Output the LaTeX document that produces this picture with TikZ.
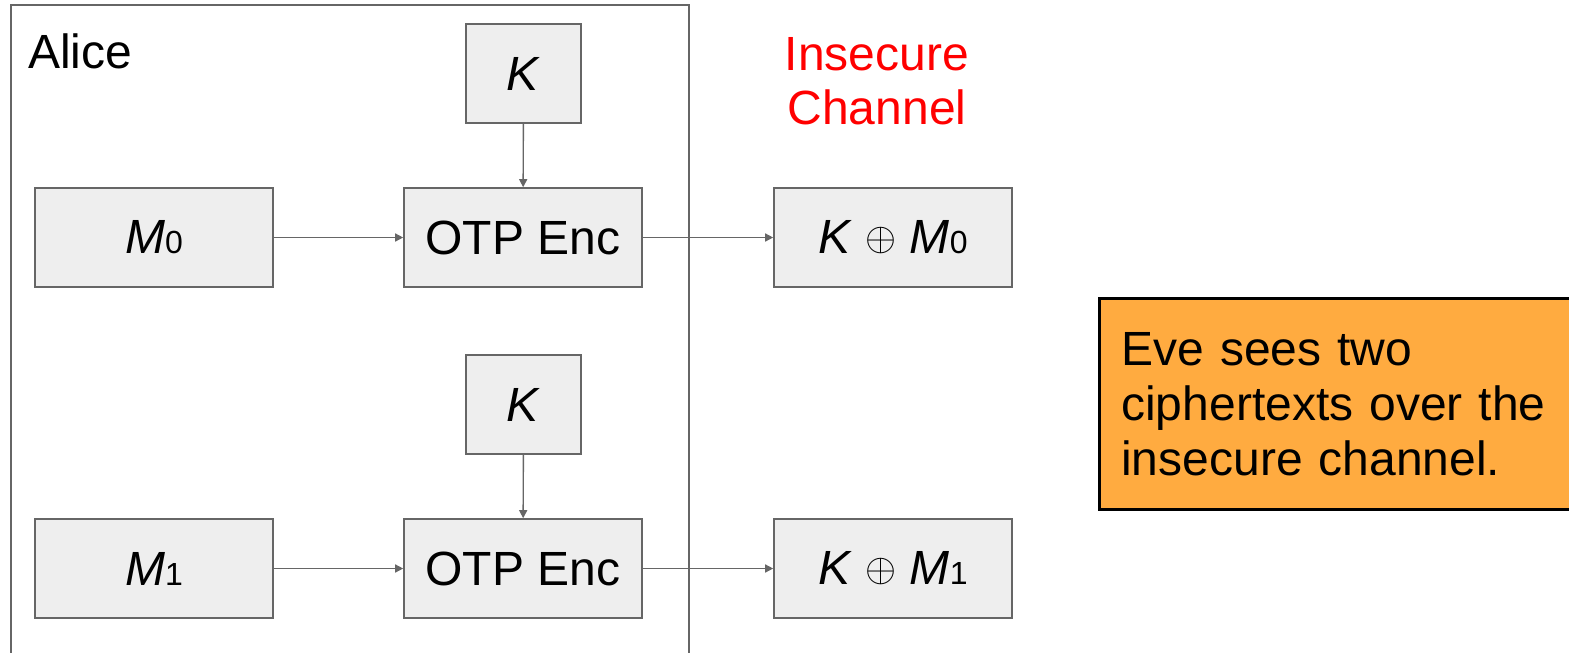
\documentclass[tikz,border=0pt]{standalone}
\usepackage{fontspec}
\setmainfont{Liberation Sans}
\usetikzlibrary{positioning,arrows.meta}
\definecolor{linegray}{HTML}{666666}
\definecolor{boxgray}{HTML}{EEEEEE}
\definecolor{evefill}{HTML}{FFAB40}
\newcommand{\msg}[1]{\textit{M}{\fontsize{32}{32}\selectfont #1}}
\newcommand{\xorsym}{\raisebox{3pt}{\resizebox{31pt}{!}{$\oplus$}}}
\tikzset{
  blk/.style={draw=linegray, fill=boxgray, line width=1.6pt, minimum width=238pt, minimum height=99pt, inner sep=0pt},
  keyblk/.style={blk, minimum width=115pt},
  flow/.style={draw=linegray, line width=1.4pt, -{Triangle[length=8pt,width=8pt]}}
}
\begin{document}
\begin{tikzpicture}[x=1pt, y=-1pt, font=\fontsize{48}{56}\selectfont]
\clip (0,0) rectangle (1569,653);
% Alice frame
\node[draw=linegray, line width=1.6pt, minimum width=678pt, minimum height=700pt, anchor=north west, inner sep=0pt] (alice) at (10,4) {};
\node[anchor=base west, inner sep=0pt] (alicelbl) at (28,68) {Alice};
% first message
\node[keyblk] (k0) at (523.5,73.5) {\textit{K}};
\node[blk] (m0) at (154,237.5) {\msg{0}};
\node[blk] (enc0) at (523,237.5) {OTP Enc};
\node[blk] (c0) at (893,237.5) {\textit{K} \xorsym{} \msg{0}};
% second message
\node[keyblk] (k1) at (523.5,404.5) {\textit{K}};
\node[blk] (m1) at (154,568.5) {\msg{1}};
\node[blk] (enc1) at (523,568.5) {OTP Enc};
\node[blk] (c1) at (893,568.5) {\textit{K} \xorsym{} \msg{1}};
% channel + note
\node[text=red, align=center, font=\fontsize{48}{54}\selectfont] (chan) at (877,81) {Insecure\\Channel};
\node[draw=black, line width=2.6pt, fill=evefill, anchor=north west, minimum height=211pt, text width=450pt, inner sep=0pt, inner xsep=22pt, align=left, font=\fontsize{48}{55}\selectfont] (eve) at (1098,297) {Eve sees two\\ciphertexts over the\\insecure channel.};
% arrows
\draw[flow] (k0) -- (enc0);
\draw[flow] (m0) -- (enc0);
\draw[flow] (enc0) -- (c0);
\draw[flow] (k1) -- (enc1);
\draw[flow] (m1) -- (enc1);
\draw[flow] (enc1) -- (c1);
\end{tikzpicture}
\end{document}
